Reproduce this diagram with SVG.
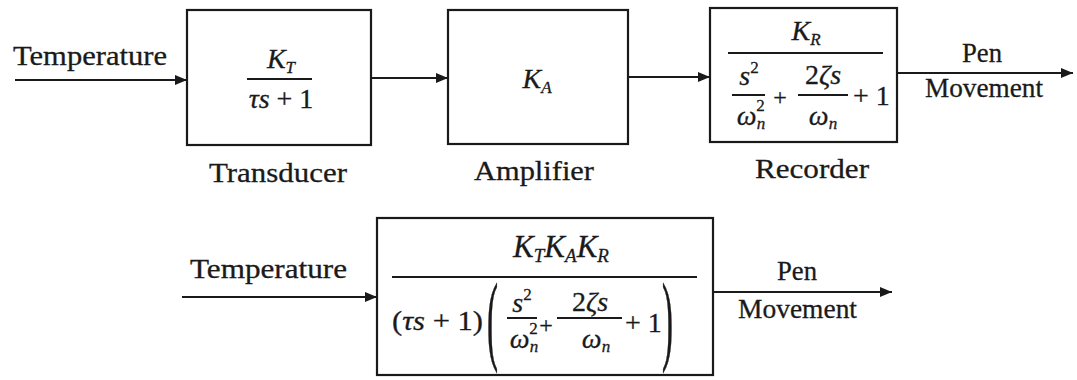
<svg xmlns="http://www.w3.org/2000/svg" width="1077" height="380" viewBox="0 0 1077 380">
<defs>
<style>
.box{fill:none;stroke:#1a1a1a;stroke-width:2.2}
.wire{fill:none;stroke:#1a1a1a;stroke-width:2}
.fr{stroke:#1a1a1a;stroke-width:2}
.lbl{font-family:"Liberation Serif","Times New Roman",serif;font-size:28px;fill:#1a1a1a;stroke:#1a1a1a;stroke-width:0.3}
.m{font-family:"Liberation Serif","Times New Roman",serif;font-size:28px;fill:#1a1a1a;stroke:#1a1a1a;stroke-width:0.3}
.i{font-style:italic}
.sub{font-size:17px;font-style:italic}
.sup{font-size:17px}
.big{font-size:100px;stroke-width:0.8}
.plus{font-size:24px}
.kk{font-size:31px}
.kk .sub{font-size:19px}
</style>
<marker id="ah" viewBox="0 0 12 10" refX="12" refY="5" markerWidth="12" markerHeight="10" markerUnits="userSpaceOnUse" orient="auto">
<path d="M0,0 L12,5 L0,10 Z" fill="#1a1a1a"/>
</marker>
</defs>
<rect width="1077" height="380" fill="#ffffff"/>

<g id="connectors">
<line class="wire" x1="15" y1="80" x2="187" y2="80" marker-end="url(#ah)"/>
<line class="wire" x1="371" y1="78" x2="448" y2="78" marker-end="url(#ah)"/>
<line class="wire" x1="628" y1="77" x2="710" y2="77" marker-end="url(#ah)"/>
<line class="wire" x1="898" y1="73" x2="1073" y2="73" marker-end="url(#ah)"/>
<line class="wire" x1="182" y1="297" x2="377" y2="297" marker-end="url(#ah)"/>
<line class="wire" x1="713" y1="292" x2="892" y2="292" marker-end="url(#ah)"/>
</g>

<g id="labels">
<text class="lbl" x="13" y="65" textLength="154" lengthAdjust="spacingAndGlyphs">Temperature</text>
<text class="lbl" x="962" y="62" textLength="40" lengthAdjust="spacingAndGlyphs">Pen</text>
<text class="lbl" x="925" y="97" textLength="118" lengthAdjust="spacingAndGlyphs">Movement</text>
<text class="lbl" x="190" y="278" textLength="157" lengthAdjust="spacingAndGlyphs">Temperature</text>
<text class="lbl" x="777" y="280" textLength="40" lengthAdjust="spacingAndGlyphs">Pen</text>
<text class="lbl" x="738" y="318" textLength="119" lengthAdjust="spacingAndGlyphs">Movement</text>
</g>

<g id="transducer">
<rect class="box" x="187" y="10" width="184" height="135"/>
<text class="m" x="281" y="68" text-anchor="middle"><tspan class="i">K</tspan><tspan class="sub" dy="5">T</tspan></text>
<line class="fr" x1="247" y1="79" x2="312" y2="79"/>
<text class="m" x="281" y="108" text-anchor="middle"><tspan class="i">τs</tspan> + 1</text>
<text class="lbl" x="209" y="182" textLength="138" lengthAdjust="spacingAndGlyphs">Transducer</text>
</g>

<g id="amplifier">
<rect class="box" x="448" y="10" width="180" height="134"/>
<text class="m" x="537" y="88" text-anchor="middle"><tspan class="i">K</tspan><tspan class="sub" dy="5">A</tspan></text>
<text class="lbl" x="474" y="180" textLength="120" lengthAdjust="spacingAndGlyphs">Amplifier</text>
</g>

<g id="recorder">
<rect class="box" x="710" y="8" width="187" height="134"/>
<text class="m" x="806" y="40" text-anchor="middle"><tspan class="i">K</tspan><tspan class="sub" dy="5">R</tspan></text>
<line class="fr" x1="728" y1="53" x2="883" y2="53"/>
<text class="m" x="749" y="85" text-anchor="middle"><tspan class="i">s</tspan><tspan class="sup" dy="-12">2</tspan></text>
<line class="fr" x1="732" y1="95" x2="765" y2="95"/>
<text class="m" x="751" y="125" text-anchor="middle"><tspan class="i">ω</tspan><tspan class="sub" dy="4">n</tspan><tspan class="sup" dx="-9" dy="-18">2</tspan></text>
<text class="m plus" x="780" y="105" text-anchor="middle">+</text>
<text class="m" x="823" y="84" text-anchor="middle">2<tspan class="i">ζs</tspan></text>
<line class="fr" x1="798" y1="95" x2="848" y2="95"/>
<text class="m" x="823" y="125" text-anchor="middle"><tspan class="i">ω</tspan><tspan class="sub" dy="4">n</tspan></text>
<text class="m" x="853" y="105">+ 1</text>
<text class="lbl" x="755" y="178" textLength="114" lengthAdjust="spacingAndGlyphs">Recorder</text>
</g>

<g id="overall">
<rect class="box" x="377" y="218" width="336" height="157"/>
<text class="m kk" x="561" y="257" text-anchor="middle"><tspan class="i">K</tspan><tspan class="sub" dy="5">T</tspan><tspan class="i" dy="-5">K</tspan><tspan class="sub" dy="5">A</tspan><tspan class="i" dy="-5">K</tspan><tspan class="sub" dy="5">R</tspan></text>
<line class="fr" x1="392" y1="277" x2="697" y2="277"/>
<text class="m" x="392" y="330" textLength="91" lengthAdjust="spacingAndGlyphs">(<tspan class="i">τs</tspan> + 1)</text>
<text class="m big" transform="translate(487,352) scale(0.33,1)">(</text>
<text class="m" x="522" y="312" text-anchor="middle"><tspan class="i">s</tspan><tspan class="sup" dy="-12">2</tspan></text>
<line class="fr" x1="507" y1="318" x2="537" y2="318"/>
<text class="m" x="524" y="348" text-anchor="middle"><tspan class="i">ω</tspan><tspan class="sub" dy="4">n</tspan><tspan class="sup" dx="-9" dy="-18">2</tspan></text>
<text class="m plus" x="546" y="333" text-anchor="middle">+</text>
<text class="m" x="590" y="311" text-anchor="middle">2<tspan class="i">ζs</tspan></text>
<line class="fr" x1="557" y1="318" x2="622" y2="318"/>
<text class="m" x="596" y="348" text-anchor="middle"><tspan class="i">ω</tspan><tspan class="sub" dy="4">n</tspan></text>
<text class="m" x="625" y="332">+ 1</text>
<text class="m big" transform="translate(662,352) scale(0.33,1)">)</text>
</g>
</svg>
